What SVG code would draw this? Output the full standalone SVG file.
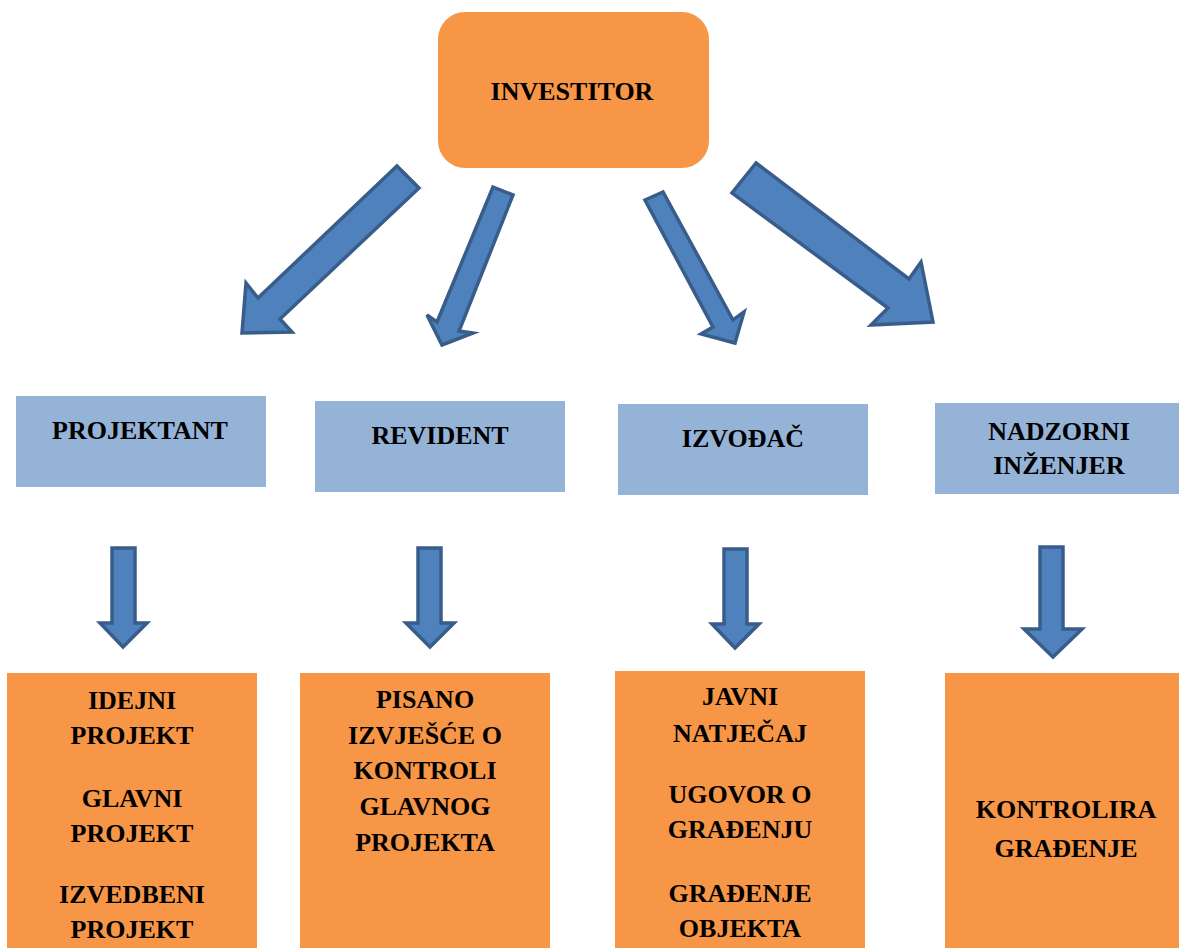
<svg xmlns="http://www.w3.org/2000/svg" width="1179" height="948" viewBox="0 0 1179 948">
<style>
.orange{fill:#F79646}
.blue{fill:#95B3D7}
.arr{fill:#4F81BD;stroke:#385D8A;stroke-width:3.5;stroke-linejoin:miter}
text{font-family:"Liberation Serif","Times New Roman",serif;font-weight:bold;font-size:26px;fill:#000;text-anchor:middle}
</style>
<rect width="1179" height="948" fill="#fff"/>
<g id="investitor">
<rect class="orange" x="438" y="12" width="271" height="156" rx="27" ry="27"/>
<text x="572" y="100">INVESTITOR</text>
</g>
<g id="projektant">
<rect class="blue" x="16" y="396" width="250" height="91"/>
<text x="140" y="439">PROJEKTANT</text>
</g>
<g id="revident">
<rect class="blue" x="315" y="401" width="250" height="91"/>
<text x="440" y="444">REVIDENT</text>
</g>
<g id="izvodac">
<rect class="blue" x="618" y="404" width="250" height="91"/>
<text x="743" y="447">IZVOĐAČ</text>
</g>
<g id="nadzorni">
<rect class="blue" x="935" y="403" width="250" height="91"/>
<text x="1059" y="440">NADZORNI</text>
<text x="1059" y="474">INŽENJER</text>
</g>
<g id="projekti">
<rect class="orange" x="7" y="673" width="250" height="280"/>
<text x="132" y="709">IDEJNI</text>
<text x="132" y="744">PROJEKT</text>
<text x="132" y="807">GLAVNI</text>
<text x="132" y="842">PROJEKT</text>
<text x="132" y="903">IZVEDBENI</text>
<text x="132" y="938">PROJEKT</text>
</g>
<g id="izvjesce">
<rect class="orange" x="300" y="673" width="250" height="280"/>
<text x="425" y="708">PISANO</text>
<text x="425" y="744">IZVJEŠĆE O</text>
<text x="425" y="779">KONTROLI</text>
<text x="425" y="815">GLAVNOG</text>
<text x="425" y="851">PROJEKTA</text>
</g>
<g id="gradenje">
<rect class="orange" x="615" y="671" width="250" height="280"/>
<text x="740" y="705">JAVNI</text>
<text x="740" y="742">NATJEČAJ</text>
<text x="740" y="803">UGOVOR O</text>
<text x="740" y="838">GRAĐENJU</text>
<text x="740" y="902">GRAĐENJE</text>
<text x="740" y="937">OBJEKTA</text>
</g>
<g id="kontrola">
<rect class="orange" x="945" y="673" width="250" height="280"/>
<text x="1066" y="818">KONTROLIRA</text>
<text x="1066" y="857">GRAĐENJE</text>
</g>
<g id="connectors">
<polygon class="arr" points="397,166 419,188 280,319 292,332 242,333 246,283 258,298"/>
<polygon class="arr" points="493,187 513,195 459,331 473,333 442,345 427,315 437,322"/>
<polygon class="arr" points="645,200 663,192 733,320 744,312 735,343 701,334 713,327"/>
<polygon class="arr" points="756,163 732,193 888,308 871,325 933,322 921,262 909,279"/>
<polygon class="arr" points="112,548 135,548 135,623 147,623 123,647 100,623 112,623"/>
<polygon class="arr" points="418,548 441,548 441,623 454,623 430,647 406,623 418,623"/>
<polygon class="arr" points="724,549 747,549 747,624 759,624 735,648 712,624 724,624"/>
<polygon class="arr" points="1040,547 1063,547 1063,629 1082,629 1053,657 1024,629 1040,629"/>
</g>
</svg>
